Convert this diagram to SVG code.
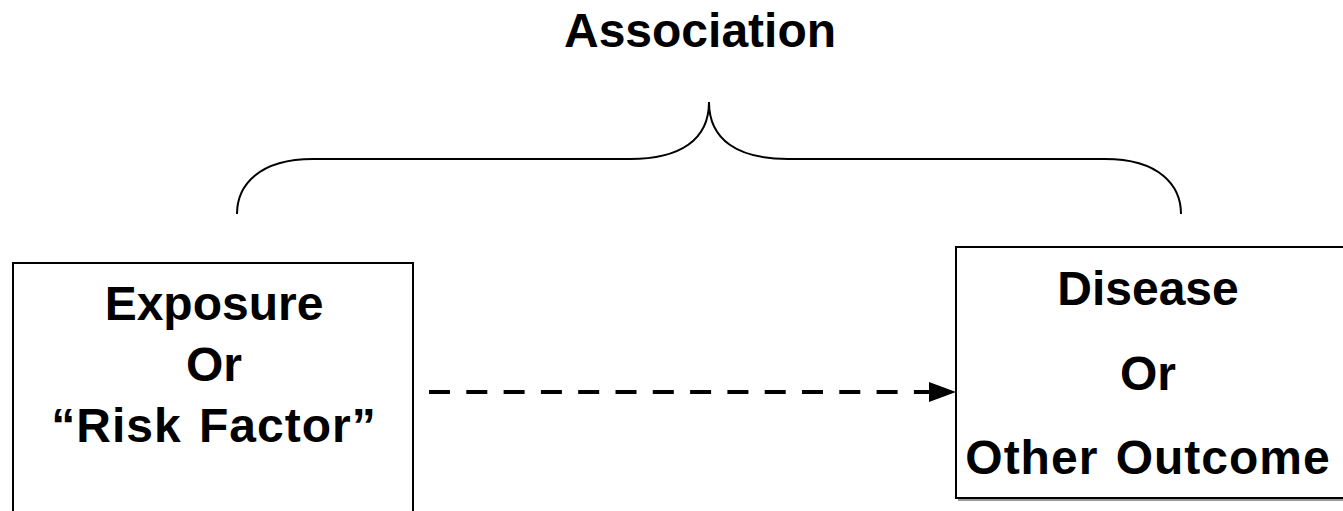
<svg xmlns="http://www.w3.org/2000/svg" width="1343" height="511" viewBox="0 0 1343 511">
  <defs>
    <style>
      .lbl { font-family: "Liberation Sans", Arial, sans-serif; font-weight: bold; font-size: 48px; fill: #000; text-anchor: middle; }
      .wide { letter-spacing: 1px; word-spacing: 3px; }
      .box { fill: #fff; stroke: #000; stroke-width: 2; }
      .shadow { fill: none; stroke: #9a9a9a; stroke-width: 2; }
      .brace { fill: none; stroke: #000; stroke-width: 2; }
      .dash { fill: none; stroke: #000; stroke-width: 4; stroke-dasharray: 21 16.3; }
    </style>
  </defs>
  <rect width="1343" height="511" fill="#fff"/>

  <!-- title above the brace -->
  <g id="title">
    <text class="lbl" x="700" y="47">Association</text>
  </g>

  <!-- curly brace spanning both boxes -->
  <g id="brace">
    <path class="brace" d="M237 214 C237 186 258 159 313 159 H630 C680 159 709 140 709 102 C709 140 738 159 788 159 H1105 C1160 159 1181 186 1181 214"/>
  </g>

  <!-- left node -->
  <g id="exposure">
    <rect class="box" x="13" y="263" width="400" height="270"/>
    <text class="lbl" x="214" y="320">Exposure</text>
    <text class="lbl" x="214" y="381">Or</text>
    <text class="lbl wide" x="214" y="442">“Risk Factor”</text>
  </g>

  <!-- right node -->
  <g id="outcome">
    <path class="shadow" d="M958 500 H1343"/>
    <rect class="box" x="956" y="247" width="400" height="251"/>
    <text class="lbl" x="1148" y="305">Disease</text>
    <text class="lbl" x="1148" y="390">Or</text>
    <text class="lbl wide" x="1148" y="474">Other Outcome</text>
  </g>

  <!-- dashed connector -->
  <g id="connectors">
    <path class="dash" d="M429 392 H931"/>
    <polygon points="929,382 956,392 929,402" fill="#000"/>
  </g>
</svg>
